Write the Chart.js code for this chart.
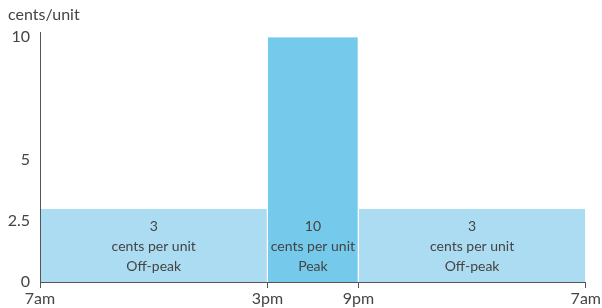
<!DOCTYPE html>
<html>
<head>
<meta charset="utf-8">
<script src="https://cdn.jsdelivr.net/npm/chart.js@4/dist/chart.umd.min.js"></script>
<style>
  body { margin: 0; background: #fff; }
  #wrap { width: 602px; height: 308px; position: relative; }
</style>
</head>
<body>
<div id="wrap"><canvas id="tariffChart"></canvas></div>
<script>
// period edges on the (non-linear) time axis, and their labels
const edges = [0, 5, 7, 12]
const timeLabels = ["7am", "3pm", "9pm", "7am"]
// one value per period
const rates = [3, 10, 3]
const periodNames = ["Off-peak", "Peak", "Off-peak"]
const yTicks = [0, 2.5, 5, 10]

const OFFPEAK = "#acdcf2"
const PEAK = "#75c9ea"
const TEXT = "#444"
const FONT = "Lato"

const datasets = rates.map((v, i) => ({
  label: periodNames[i],
  data: [
    {x: edges[i], y: 0},
    {x: edges[i], y: v},
    {x: edges[i+1], y: v},
    {x: edges[i+1], y: 0}
  ],
  fill: "origin",
  backgroundColor: periodNames[i] == "Peak" ? PEAK : OFFPEAK,
  borderColor: "#fff",
  borderWidth: 1,
  pointRadius: 0,
  tension: 0
}))

// text inside each period + axis unit label
const labelPlugin = {
  id: "periodLabels",
  afterDatasetsDraw(chart) {
    const ctx = chart.ctx
    const xs = chart.scales.x, ys = chart.scales.y
    const base = ys.getPixelForValue(0)
    ctx.save()
    ctx.fillStyle = TEXT
    ctx.textAlign = "center"
    ctx.textBaseline = "middle"
    rates.forEach((v, i) => {
      const cx = (xs.getPixelForValue(edges[i]) + xs.getPixelForValue(edges[i+1])) / 2
      ctx.font = "14px " + FONT
      ctx.fillText(String(v), cx, base - 56)
      ctx.fillText("cents per unit", cx, base - 36)
      ctx.fillText(periodNames[i], cx, base - 16)
    })
    ctx.textAlign = "left"
    ctx.font = "16px " + FONT
    ctx.fillText("cents/unit", 8, 15)
    ctx.restore()
  }
}

new Chart(document.getElementById("tariffChart"), {
  type: "line",
  data: { datasets: datasets },
  options: {
    responsive: true,
    maintainAspectRatio: false,
    animation: false,
    layout: { padding: { top: 32, right: 15, left: 0, bottom: 0 } },
    plugins: { legend: { display: false }, tooltip: { enabled: false } },
    scales: {
      x: {
        type: "linear",
        min: 0, max: 12,
        afterBuildTicks: s => { s.ticks = edges.map(e => ({value: e})) },
        afterFit: s => { s.height = 26 },
        ticks: {
          autoSkip: false,
          maxRotation: 0,
          padding: 1,
          color: TEXT,
          font: { family: FONT, size: 16 },
          callback: (val) => timeLabels[edges.indexOf(val)]
        },
        grid: { drawOnChartArea: false, tickLength: 6, color: "#555" },
        border: { color: "#555", width: 1, z: 1 }
      },
      y: {
        min: 0, max: 10.2,
        afterBuildTicks: s => { s.ticks = yTicks.map(t => ({value: t})) },
        afterFit: s => { s.width = 40 },
        ticks: {
          padding: 10,
          color: TEXT,
          font: { family: FONT, size: 16 }
        },
        grid: { display: false, drawTicks: false },
        border: { color: "#555", width: 1, z: 1 }
      }
    }
  },
  plugins: [labelPlugin]
})
</script>
</body>
</html>
